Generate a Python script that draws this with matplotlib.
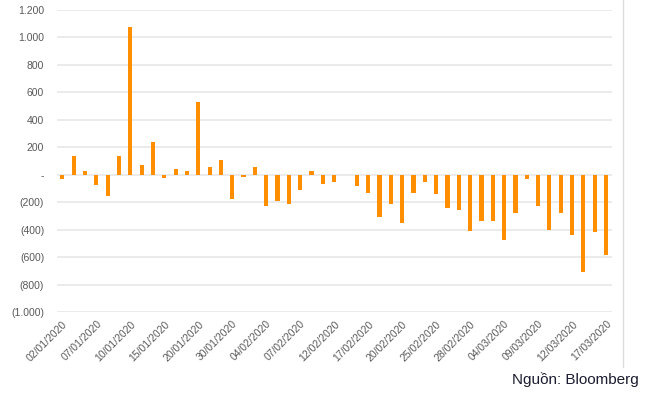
import numpy as np
import matplotlib
matplotlib.use('Agg')
import matplotlib.pyplot as plt
from matplotlib.lines import Line2D

'''
Net foreign flows, daily bars (Jan - Mar 2020)
'''

plt.rcParams['font.family'] = ['Liberation Sans', 'DejaVu Sans']

dates = ['02/01/2020', '03/01/2020', '06/01/2020', '07/01/2020', '08/01/2020', '09/01/2020',
         '10/01/2020', '13/01/2020', '14/01/2020', '15/01/2020', '16/01/2020', '17/01/2020',
         '20/01/2020', '21/01/2020', '22/01/2020', '30/01/2020', '31/01/2020', '03/02/2020',
         '04/02/2020', '05/02/2020', '06/02/2020', '07/02/2020', '10/02/2020', '11/02/2020',
         '12/02/2020', '13/02/2020', '14/02/2020', '17/02/2020', '18/02/2020', '19/02/2020',
         '20/02/2020', '21/02/2020', '24/02/2020', '25/02/2020', '26/02/2020', '27/02/2020',
         '28/02/2020', '02/03/2020', '03/03/2020', '04/03/2020', '05/03/2020', '06/03/2020',
         '09/03/2020', '10/03/2020', '11/03/2020', '12/03/2020', '13/03/2020', '16/03/2020',
         '17/03/2020']
values = [-30, 140, 24, -73, -158, 140, 1075, 68, 242, -25, 39, 29,
          532, 56, 104, -179, -15, 56, -227, -191, -213, -109, 29, -65,
          -53, -5, -80, -131, -305, -215, -351, -131, -53, -138, -244, -257,
          -407, -336, -336, -474, -281, -29, -227, -404, -281, -436, -709, -416,
          -583]
yticks = [-1000, -800, -600, -400, -200, 0, 200, 400, 600, 800, 1000, 1200]
ytick_labels = ['(1.000)', '(800)', '(600)', '(400)', '(200)', '-', '200', '400', '600', '800', '1.000', '1.200']

fig = plt.figure(figsize=(6.6, 3.98), dpi=100)
ax = fig.add_axes([56.7/660, 1-312/398, 555/660, 302/398])

x = np.arange(len(values))
ax.bar(x, values, width=0.37, color='#ff8f00', zorder=3)

ax.set_xlim(-0.5, len(values)-0.5)
ax.set_ylim(-1000, 1200)
ax.set_yticks(yticks)
ax.set_yticklabels(ytick_labels)
ax.grid(axis='y', color='#e6e6e6', linewidth=1.1, zorder=0)
ax.set_xticks(x[::3])
ax.set_xticklabels(dates[::3], rotation=45, ha='right', rotation_mode='anchor')
ax.tick_params(axis='both', length=0, labelsize=7.5, labelcolor='#595959')
ax.tick_params(axis='y', pad=9)
ax.tick_params(axis='x', pad=5)
for s in ax.spines.values():
    s.set_visible(False)

fig.add_artist(Line2D([623/660, 623/660], [1-367/398, 1], color='#dddddd', linewidth=1))
fig.text(639/660, 1-380/398, 'Nguồn: Bloomberg', ha='right', va='center',
         fontsize=11, color='#1c1c30')

fig.savefig('out.png', dpi=100)
